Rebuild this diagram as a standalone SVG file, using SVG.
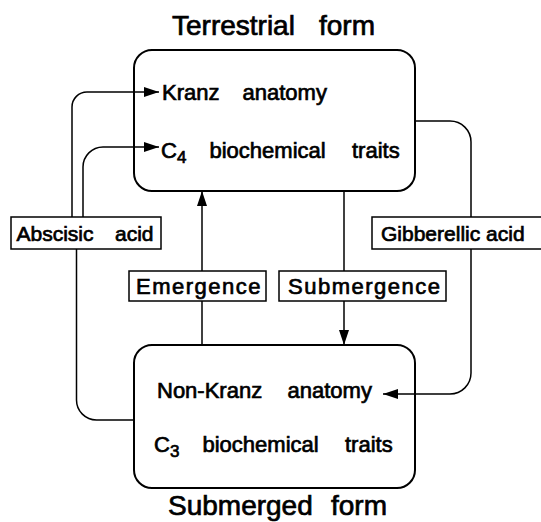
<svg xmlns="http://www.w3.org/2000/svg" width="541" height="522" viewBox="0 0 541 522">
<defs>
<style>
text{font-family:"Liberation Sans",Arial,sans-serif;fill:#000;stroke:#000;stroke-width:0.7}
.t{font-size:28px}
.n{font-size:22px}
.s{font-size:17px}
.l{font-size:21px}
.sp{font-size:22px;letter-spacing:1.5px}
.box{fill:#fff;stroke:#000;stroke-width:2}
.lab{fill:#fff;stroke:#000;stroke-width:1.5}
.c{fill:none;stroke:#000;stroke-width:1.5}
</style>
<marker id="ah" viewBox="0 0 15 10" refX="15" refY="5" markerWidth="15" markerHeight="10" markerUnits="userSpaceOnUse" orient="auto">
<path d="M0,0 L15,5 L0,10 Z" fill="#000"/>
</marker>
</defs>
<g id="terrestrial">
<text class="t" x="172" y="35">Terrestrial</text>
<text class="t" x="319" y="35">form</text>
<rect class="box" x="134" y="50" width="281" height="141" rx="18"/>
<text class="n" x="162" y="100">Kranz</text>
<text class="n" x="242.5" y="100">anatomy</text>
<text class="n" x="161" y="158">C</text>
<text class="s" x="177" y="163">4</text>
<text class="n" x="209.5" y="158">biochemical</text>
<text class="n" x="352" y="158">traits</text>
</g>
<g id="submerged">
<rect class="box" x="134" y="345" width="281" height="143" rx="18"/>
<text class="n" x="157" y="398">Non-Kranz</text>
<text class="n" x="287.5" y="398">anatomy</text>
<text class="n" x="154" y="452">C</text>
<text class="s" x="170" y="457">3</text>
<text class="n" x="202.5" y="452">biochemical</text>
<text class="n" x="345" y="452">traits</text>
<text class="t" x="168" y="515">Submerged</text>
<text class="t" x="331" y="515">form</text>
</g>
<g id="connectors">
<path class="c" d="M72,217 V107 A15,15 0 0 1 87,92 H159" marker-end="url(#ah)"/>
<path class="c" d="M83,217 V167 A20,20 0 0 1 103,147 H159" marker-end="url(#ah)"/>
<path class="c" d="M76.5,249 V400 A20,20 0 0 0 96.5,420 H134"/>
<path class="c" d="M415,121 H450 A21,21 0 0 1 471,142 V217"/>
<path class="c" d="M471,249 V373 A21,21 0 0 1 450,394 H383" marker-end="url(#ah)"/>
<path class="c" d="M202,345 V191" marker-end="url(#ah)"/>
<path class="c" d="M344,191 V345" marker-end="url(#ah)"/>
</g>
<g id="abscisic">
<rect class="lab" x="11" y="217" width="150" height="32"/>
<text class="l" x="16.5" y="241">Abscisic</text>
<text class="l" x="115" y="241">acid</text>
</g>
<g id="gibberellic">
<rect class="lab" x="372" y="217" width="175" height="32"/>
<text class="l" x="381" y="241">Gibberellic acid</text>
</g>
<g id="emergence">
<rect class="lab" x="129" y="271" width="137" height="30"/>
<text class="sp" x="136" y="294">Emergence</text>
</g>
<g id="submergence">
<rect class="lab" x="279" y="271" width="167" height="30"/>
<text class="sp" x="288" y="294">Submergence</text>
</g>
</svg>
